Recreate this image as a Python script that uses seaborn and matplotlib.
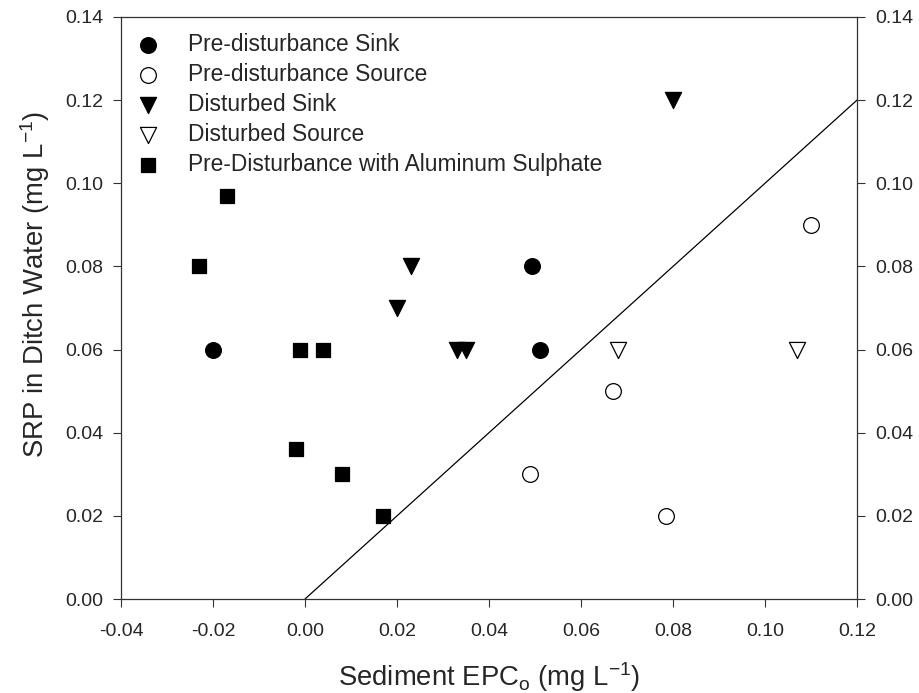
import matplotlib
matplotlib.use("Agg")
import matplotlib.pyplot as plt
import seaborn as sns
import pandas as pd

# values
pre_sink_x = [-0.020, 0.0494, 0.0511]
pre_sink_y = [0.06, 0.08, 0.06]

pre_source_x = [0.049, 0.067, 0.0785, 0.110]
pre_source_y = [0.03, 0.05, 0.02, 0.09]

dist_sink_x = [0.020, 0.023, 0.033, 0.035, 0.080]
dist_sink_y = [0.07, 0.08, 0.06, 0.06, 0.12]

dist_source_x = [0.068, 0.107]
dist_source_y = [0.06, 0.06]

alum_x = [-0.023, -0.017, -0.001, 0.004, -0.002, 0.008, 0.017]
alum_y = [0.08, 0.097, 0.06, 0.06, 0.036, 0.03, 0.02]

line_x = [0.0, 0.12]
line_y = [0.0, 0.12]

x_ticks = [-0.04, -0.02, 0.00, 0.02, 0.04, 0.06, 0.08, 0.10, 0.12]
y_ticks = [0.00, 0.02, 0.04, 0.06, 0.08, 0.10, 0.12, 0.14]

sns.set_style("ticks")
plt.rcParams['font.family'] = ['Liberation Sans', 'DejaVu Sans']
plt.rcParams['mathtext.fontset'] = 'custom'
plt.rcParams['mathtext.rm'] = 'Liberation Sans'
plt.rcParams['mathtext.it'] = 'Liberation Sans'

fig, ax = plt.subplots(figsize=(9.2, 6.93), dpi=100)
fig.subplots_adjust(left=0.1315, right=0.9315, top=0.9755, bottom=0.1356)

groups = [
    ("Pre-disturbance Sink", pre_sink_x, pre_sink_y, "o", "black", 128),
    ("Pre-disturbance Source", pre_source_x, pre_source_y, "o", "white", 128),
    ("Disturbed Sink", dist_sink_x, dist_sink_y, "v", "black", 135),
    ("Disturbed Source", dist_source_x, dist_source_y, "v", "white", 135),
    ("Pre-Disturbance with Aluminum Sulphate", alum_x, alum_y, "s", "black", 100),
]

sns.lineplot(x=line_x, y=line_y, color="black", linewidth=0.9, ax=ax,
             legend=False, zorder=1)

for name, xs, ys, mk, fc, size in groups:
    df = pd.DataFrame({"x": xs, "y": ys})
    sns.scatterplot(data=df, x="x", y="y", marker=mk, s=size, color=fc,
                    edgecolor="black", linewidth=0.9, ax=ax, label=name,
                    zorder=3)

ax.set_xlim(-0.04, 0.12)
ax.set_ylim(0, 0.14)
ax.set_xticks(x_ticks)
ax.set_yticks(y_ticks)
ax.set_xticklabels([f"{t:.2f}" for t in x_ticks])
ax.set_yticklabels([f"{t:.2f}" for t in y_ticks])

ax.tick_params(axis="both", direction="out", length=6, width=0.8,
               labelsize=14, color="#333333")
ax.tick_params(axis="x", pad=11)
ax.tick_params(axis="y", right=True, labelright=True, pad=7)
for sp in ax.spines.values():
    sp.set_visible(True)
    sp.set_linewidth(0.9)
    sp.set_color("#333333")

ax.set_xlabel("Sediment EPC$_{\\mathrm{o}}$ (mg L$^{\\mathrm{-1}}$)",
              fontsize=19.8, labelpad=15)
ax.set_ylabel("SRP in Ditch Water (mg L$^{\\mathrm{-1}}$)",
              fontsize=19.8, labelpad=9)
ax.yaxis.label.set_y(0.54)

leg = ax.legend(loc="upper left", bbox_to_anchor=(0.015, 0.985),
                frameon=False, fontsize=16.4, handletextpad=1.35,
                labelspacing=0.31, borderaxespad=0.0, handlelength=0.8,
                borderpad=0.3)

plt.savefig("out.png", dpi=100)
plt.close()
